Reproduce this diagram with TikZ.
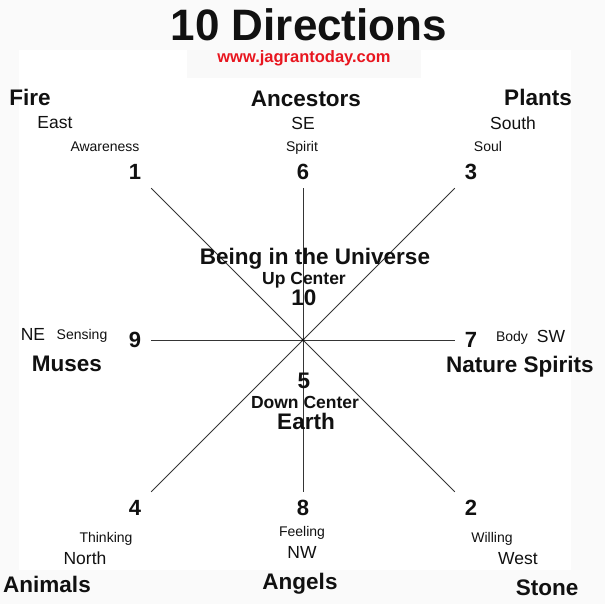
\documentclass[tikz,border=0pt]{standalone}
\usepackage{fontspec}
\setmainfont{Liberation Sans}
\usetikzlibrary{calc}
\definecolor{urlred}{HTML}{E8161F}
\definecolor{ink}{HTML}{111111}

\begin{document}
\begin{tikzpicture}[x=1pt,y=1pt,text=ink,
      big/.style={font=\fontsize{22.5}{26}\selectfont\bfseries},
      mid/.style={font=\fontsize{17.5}{20}\selectfont},
      sml/.style={font=\fontsize{14}{16}\selectfont},
      num/.style={font=\fontsize{22}{26}\selectfont\bfseries,inner sep=0pt,
                  minimum size=32pt}]
    % faint page and panel
    \fill[black!2] (0,0) rectangle (605,604);
    \fill[white] (19,34) rectangle (571,554);
    \fill[black!2.5] (187,526) rectangle (421,554);
    \useasboundingbox (0,0) rectangle (605,604);

    \node[font=\fontsize{44}{50}\selectfont\bfseries] (ttl) at (309,579) {10 Directions};
    \node[font=\fontsize{16.5}{19}\selectfont\bfseries,text=urlred] (url) at (304,546)
      {www.jagrantoday.com};

    % the eight arms
    \coordinate (c) at (303,264);
    \foreach \n/\dx/\dy in {1/-1/1,6/0/1,3/1/1,9/-1/0,7/1/0,4/-1/-1,8/0/-1,2/1/-1}
      \node[num] (n\n) at ($(c)+(\dx*168,\dy*168)$) {\n};
    \foreach \n in {1,6,3,9,7,4,8,2}
      \draw[line width=0.8pt,ink!85] (c) -- (n\n);
    \fill[ink] (c) circle (1.6pt);

    % top row
    \node[big] (fire) at (30,507) {Fire};
    \node[mid] (east) at (55,481) {East};
    \node[sml] (awa) at (105,457) {Awareness};
    \node[big] (anc) at (306,505) {Ancestors};
    \node[mid] (se) at (303,481) {SE};
    \node[sml] (spi) at (302,456) {Spirit};
    \node[big] (pla) at (538,507) {Plants};
    \node[mid] (sou) at (513,481) {South};
    \node[sml] (soul) at (488,457) {Soul};

    % middle
    \node[big] (univ) at (315,345) {Being in the Universe};
    \node[font=\fontsize{17.5}{20}\selectfont\bfseries] (up) at (304,324) {Up Center};
    \node[big] (n10) at (304,306) {10};
    \node[mid] (ne) at (33,270) {NE};
    \node[sml] (sen) at (82,268) {Sensing};
    \node[big] (mus) at (67,240) {Muses};
    \node[sml] (body) at (512,266) {Body};
    \node[mid] (sw) at (551,268) {SW};
    \node[big] (nat) at (520,237) {Nature Spirits};
    \node[big] (n5) at (304,223) {5};
    \node[font=\fontsize{17.5}{20}\selectfont\bfseries] (down) at (305,202) {Down Center};
    \node[big] (earth) at (306,183) {Earth};

    % bottom row
    \node[sml] (thi) at (106,65) {Thinking};
    \node[mid] (nor) at (85,46) {North};
    \node[big] (ani) at (47,20) {Animals};
    \node[sml] (fee) at (302,71) {Feeling};
    \node[mid] (nw) at (302,52) {NW};
    \node[big] (ang) at (300,20) {Angels};
    \node[sml] (wil) at (492,65) {Willing};
    \node[mid] (wes) at (518,45) {West};
    \node[big] (sto) at (547,16) {Stone};
\end{tikzpicture}
\end{document}
